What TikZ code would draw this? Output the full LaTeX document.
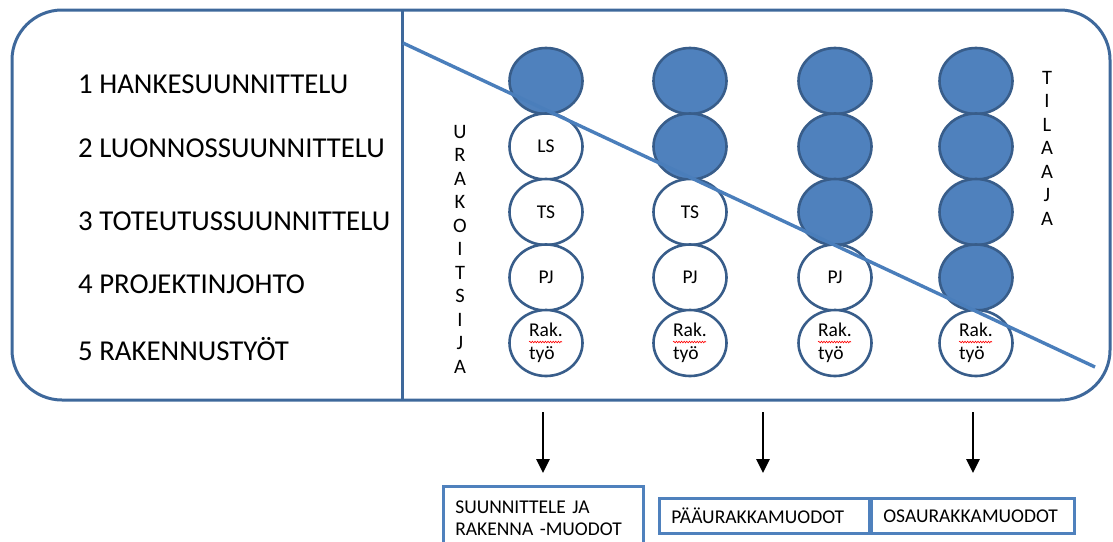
\documentclass[tikz,border=0pt]{standalone}
\usepackage{fontspec}
\setmainfont{Carlito}
\usetikzlibrary{shapes.geometric,arrows.meta,decorations.pathmorphing,calc}
\definecolor{outl}{RGB}{62,104,155}
\definecolor{efill}{RGB}{79,129,189}
\definecolor{edraw}{RGB}{56,93,138}
\definecolor{diagc}{RGB}{74,126,187}
\definecolor{boxc}{RGB}{79,129,189}
\begin{document}
\begin{tikzpicture}[x=1pt,y=-1pt,
  oval/.style={ellipse, draw=edraw, line width=2.6pt, minimum width=73pt, minimum height=66pt, inner sep=0pt, font=\fontsize{19.5}{23}\selectfont, align=left},
  full/.style={oval, fill=efill},
  empty/.style={oval, fill=white},
  phase/.style={anchor=base west, font=\fontsize{28.8}{30}\selectfont, inner sep=0pt},
  vert/.style={align=center, font=\fontsize{20.5}{23.5}\selectfont, inner sep=0pt},
  formbox/.style={draw=boxc, line width=2.6pt, anchor=north west, align=left, inner xsep=12pt, inner ysep=0pt, font=\fontsize{19.5}{22}\selectfont},
  arr/.style={line width=2.8pt, -{Triangle[width=13pt,length=14pt]}},
  wavy/.style={red, line width=0.6pt, decorate, decoration={snake, amplitude=0.8pt, segment length=2.6pt}},
]
\useasboundingbox (0,0) rectangle (1113,541);

% frame
\draw[outl, line width=3pt, rounded corners=50pt] (12,10) rectangle (1110,400);
\coordinate (divtop) at (402,10);
\coordinate (divbot) at (402,400);
\draw[outl, line width=3pt] (divtop) -- (divbot);

% phase labels
\node[phase] (p1) at (78,93) {1 HANKESUUNNITTELU};
\node[phase] (p2) at (78,157) {2 LUONNOSSUUNNITTELU};
\node[phase] (p3) at (78,230) {3 TOTEUTUSSUUNNITTELU};
\node[phase] (p4) at (78,293) {4 PROJEKTINJOHTO};
\node[phase] (p5) at (78,360) {5 RAKENNUSTYÖT};

% vertical words
\node[vert] (urak) at (460,249) {U\\R\\A\\K\\O\\I\\T\\S\\I\\J\\A};
\node[vert] (tilaaja) at (1047,148) {T\\I\\L\\A\\A\\J\\A};

% column 1
\node[full]  (e11) at (546,81) {};
\node[empty] (e12) at (546,146.5) {LS};
\node[empty] (e13) at (546,212) {TS};
\node[empty] (e14) at (546,277.5) {PJ};
\node[empty] (e15) at (546,343) {Rak.\\työ};
% column 2
\node[full]  (e21) at (690,81) {};
\node[full]  (e22) at (690,146.5) {};
\node[empty] (e23) at (690,212) {TS};
\node[empty] (e24) at (690,277.5) {PJ};
\node[empty] (e25) at (690,343) {Rak.\\työ};
% column 3
\node[full]  (e31) at (835,81) {};
\node[full]  (e32) at (835,146.5) {};
\node[full]  (e33) at (835,212) {};
\node[empty] (e34) at (835,277.5) {PJ};
\node[empty] (e35) at (835,343) {Rak.\\työ};
% column 4
\node[full]  (e41) at (976,81) {};
\node[full]  (e42) at (976,146.5) {};
\node[full]  (e43) at (976,212) {};
\node[full]  (e44) at (976,277.5) {};
\node[empty] (e45) at (976,343) {Rak.\\työ};

% spell-check underlines
\foreach \e in {e15,e25,e35,e45}{
  \draw[wavy] ($(\e)+(-17,-1)$) -- ($(\e)+(16,-1)$);
}

% diagonal
\coordinate (d1) at (403,43);
\coordinate (d2) at (1095,367);
\draw[diagc, line width=3.4pt] (d1) -- (d2);

% bottom boxes
\node[formbox, text width=176pt, minimum height=64pt] (b1) at (442,485) {SUUNNITTELE JA\\RAKENNA -MUODOT};
\node[formbox, text width=186pt, minimum height=35pt] (b2) at (658,497) {PÄÄURAKKAMUODOT};
\node[formbox, text width=179pt, minimum height=35pt] (b3) at (870,497) {OSAURAKKAMUODOT};

% arrows
\coordinate (a1) at (543,412);
\coordinate (a2) at (763,412);
\coordinate (a3) at (973,412);
\draw[arr, shorten >=12pt] (a1) -- (a1 |- b1.north);
\draw[arr, shorten >=24pt] (a2) -- (a2 |- b2.north);
\draw[arr, shorten >=24pt] (a3) -- (a3 |- b3.north);
\end{tikzpicture}
\end{document}
